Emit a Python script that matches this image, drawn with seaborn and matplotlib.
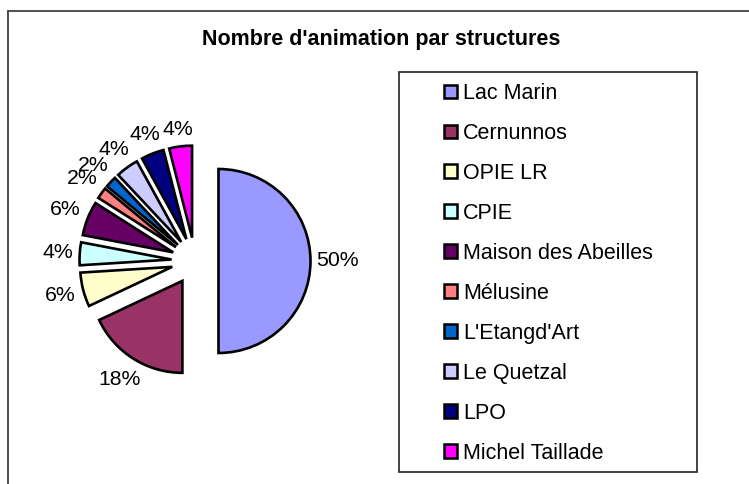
import matplotlib
matplotlib.use("Agg")
import math
import matplotlib.pyplot as plt
from matplotlib.patches import Rectangle, Patch
from matplotlib.lines import Line2D
import seaborn as sns

# ---- data ----
structures = ["Lac Marin", "Cernunnos", "OPIE LR", "CPIE", "Maison des Abeilles",
              "Mélusine", "L'Etangd'Art", "Le Quetzal", "LPO", "Michel Taillade"]
animations = [25, 9, 3, 2, 3, 1, 1, 2, 2, 2]
colors = ["#9999FF", "#993366", "#FFFFCC", "#CCFFFF", "#660066",
          "#FF8080", "#0066CC", "#CCCCFF", "#000080", "#FF00FF"]
title = "Nombre d'animation par structures"

sns.set_theme(style="white")
plt.rcParams["font.family"] = ["Liberation Sans", "DejaVu Sans"]
plt.rcParams["text.color"] = "black"
palette = sns.color_palette(colors)

W, H = 749, 484
fig = plt.figure(figsize=(W / 100, H / 100), dpi=100)
fig.patch.set_facecolor("white")
ax = fig.add_axes([0, 0, 1, 1])

radius = 92
wedges, texts, autotexts = ax.pie(
    animations,
    colors=palette,
    startangle=90,
    counterclock=False,
    center=(195, H - 261),
    radius=radius,
    explode=[23.5] * len(animations),
    autopct="%1.0f%%",
    pctdistance=1.25,
    wedgeprops=dict(edgecolor="black", linewidth=1.9),
    textprops=dict(fontsize=15.3, color="black"),
)
ax.set_xlim(0, W)
ax.set_ylim(0, H)
ax.set_aspect("auto")
ax.axis("off")

# place percentage labels just outside each wedge's arc (Excel-like)
fig.canvas.draw()
renderer = fig.canvas.get_renderer()
gap = 6
for w, t in zip(wedges, autotexts):
    th = math.radians(0.5 * (w.theta1 + w.theta2))
    c, s = math.cos(th), math.sin(th)
    bb = t.get_window_extent(renderer)
    dist = w.r + gap + abs(c) * bb.width / 2 + abs(s) * bb.height / 2
    cx, cy = w.center
    t.set_position((cx + dist * c, cy + dist * s))
    t.set_ha("center")
    t.set_va("center")

# outer chart frame (left and top edges visible)
fig.add_artist(Line2D([8 / W, 8 / W], [0, 1 - 11 / H], transform=fig.transFigure,
                      color="#404040", linewidth=1.3))
fig.add_artist(Line2D([8 / W, 1], [1 - 11 / H, 1 - 11 / H], transform=fig.transFigure,
                      color="#404040", linewidth=1.3))

# title
fig.text(381 / W, 1 - 40 / H, title, ha="center", va="center",
         fontsize=15.5, fontweight="bold", color="black")

# legend box
fig.add_artist(Rectangle((399 / W, 1 - 472 / H), (697 - 399) / W, 400 / H,
                         transform=fig.transFigure, fill=False,
                         edgecolor="#222222", linewidth=1.2))
handles = [Patch(facecolor=c, edgecolor="black", linewidth=1.8) for c in palette]
leg = fig.legend(handles, structures, loc="upper left",
                 bbox_to_anchor=(444 / W, 1 - 83 / H), frameon=False,
                 fontsize=15.5, handlelength=0.6, handleheight=0.6,
                 handletextpad=0.3, labelspacing=0.88, borderpad=0,
                 borderaxespad=0, labelcolor="black")

fig.savefig("out.png", dpi=100, facecolor="white")
